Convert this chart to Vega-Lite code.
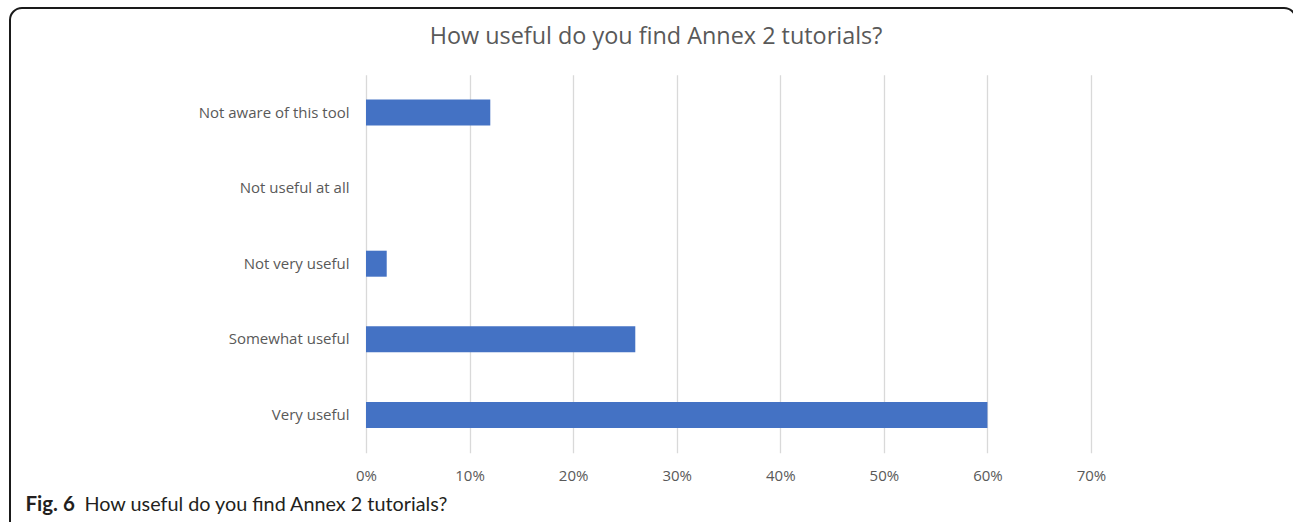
{
  "$schema": "https://vega.github.io/schema/vega-lite/v6.json",
  "autosize": "none",
  "padding": {"left": 10, "top": 8, "right": -3, "bottom": -12},
  "width": 1286,
  "height": 526,
  "background": "white",
  "title": {
    "text": "How useful do you find Annex 2 tutorials?",
    "anchor": "middle",
    "frame": "group",
    "offset": -41,
    "dx": 3,
    "font": "Open Sans",
    "fontSize": 23.4,
    "fontWeight": "normal",
    "color": "#595959"
  },
  "data": {
    "values": [
      {"response": "Not aware of this tool", "percent": 12},
      {"response": "Not useful at all", "percent": 0},
      {"response": "Not very useful", "percent": 2},
      {"response": "Somewhat useful", "percent": 26},
      {"response": "Very useful", "percent": 60}
    ]
  },
  "mark": {"type": "bar", "color": "#4472C4", "size": 26},
  "encoding": {
    "y": {
      "field": "response",
      "type": "nominal",
      "sort": null,
      "scale": {"range": [66.7, 444.7], "paddingInner": 0.3, "paddingOuter": 0.15},
      "axis": {
        "orient": "left",
        "offset": -356,
        "domain": false,
        "ticks": false,
        "grid": false,
        "labelPadding": 17,
        "labelFont": "Open Sans",
        "labelFontSize": 15,
        "labelColor": "#595959",
        "title": "Fig. 6",
        "titleAngle": 0,
        "titleX": -341,
        "titleY": 502.7,
        "titleAlign": "left",
        "titleBaseline": "alphabetic",
        "titleFont": "Lato",
        "titleFontSize": 20.5,
        "titleFontWeight": "bold",
        "titleColor": "#231f20"
      }
    },
    "x": {
      "field": "percent",
      "type": "quantitative",
      "scale": {"domain": [0, 70], "range": [356, 1081], "nice": false, "zero": true},
      "axis": {
        "orient": "top",
        "offset": -472.7,
        "values": [0, 10, 20, 30, 40, 50, 60, 70],
        "labelExpr": "datum.value + '%'",
        "domain": false,
        "ticks": false,
        "grid": true,
        "gridColor": "#d9d9d9",
        "gridWidth": 1.3,
        "labelPadding": 0,
        "labelBaseline": "alphabetic",
        "labelFont": "Open Sans",
        "labelFontSize": 15,
        "labelColor": "#595959",
        "labelFlush": false,
        "title": "How useful do you find Annex 2 tutorials?",
        "titleX": 74,
        "titleY": 30,
        "titleAlign": "left",
        "titleBaseline": "alphabetic",
        "titleFont": "Lato",
        "titleFontSize": 19.8,
        "titleFontWeight": "normal",
        "titleColor": "#231f20"
      }
    }
  },
  "config": {
    "view": {"stroke": "#1a1a1a", "strokeWidth": 2, "cornerRadius": 12}
  }
}
